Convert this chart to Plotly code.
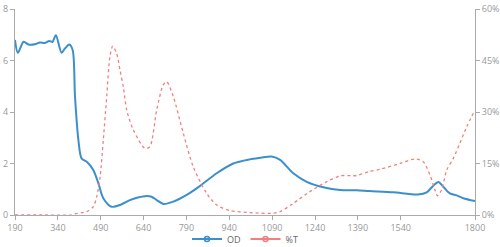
import plotly.graph_objects as go

od_x = [190, 200, 220, 237, 260, 277, 295, 310, 321, 333, 353, 365, 380, 392, 400, 412, 423, 443, 464, 482, 499, 528, 560, 592, 620, 651, 668, 686, 709, 744, 791, 838, 896, 954, 1012, 1050, 1088, 1118, 1164, 1211, 1269, 1328, 1386, 1430, 1514, 1600, 1631, 1654, 1672, 1689, 1712, 1736, 1759, 1800]
od_y = [6.8, 6.3, 6.73, 6.62, 6.63, 6.70, 6.68, 6.76, 6.72, 6.98, 6.30, 6.47, 6.62, 6.40, 4.6, 2.9, 2.2, 2.05, 1.75, 1.23, 0.65, 0.32, 0.40, 0.58, 0.68, 0.74, 0.71, 0.58, 0.43, 0.52, 0.78, 1.13, 1.62, 2.0, 2.16, 2.22, 2.27, 2.14, 1.62, 1.29, 1.08, 0.97, 0.96, 0.93, 0.88, 0.80, 0.88, 1.14, 1.28, 1.1, 0.84, 0.76, 0.65, 0.54]

t_x = [190, 300, 390, 400, 441, 464, 476, 488, 499, 511, 522, 532, 546, 558, 569, 581, 604, 645, 662, 686, 709, 721, 744, 779, 814, 861, 896, 942, 1012, 1088, 1118, 1164, 1222, 1281, 1328, 1386, 1427, 1467, 1537, 1590, 1619, 1642, 1660, 1668, 1683, 1701, 1724, 1747, 1771, 1800]
t_y = [0, 0, 0, 0.3, 1.0, 2.4, 5.3, 11.2, 21.8, 34.5, 46, 49.2, 47, 42, 37.4, 30.6, 24.8, 19.4, 19.9, 30.6, 37.9, 38.8, 34.5, 23.8, 14, 6.3, 2.9, 1.3, 0.7, 0.5, 1.0, 3.4, 6.8, 9.7, 11.4, 11.5, 12.6, 13.3, 15.0, 16.3, 15.5, 11.7, 7.3, 5.6, 7.3, 13.1, 16.5, 20.9, 25.7, 30.6]

x_ticks = [190, 340, 490, 640, 790, 940, 1090, 1240, 1390, 1540, 1800]
y_ticks = [0, 2, 4, 6, 8]
y2_ticks = [0, 15, 30, 45, 60]
y2_labels = ["0%", "15%", "30%", "45%", "60%"]

BLUE = "#3a8fcc"
RED = "#f08080"
GREY = "#999999"
AXIS = "#aaaaaa"

fig = go.Figure()
fig.add_trace(go.Scatter(x=od_x, y=od_y, mode="lines", name="OD", showlegend=False,
                         line=dict(color=BLUE, width=2, shape="spline", smoothing=0.8)))
fig.add_trace(go.Scatter(x=t_x, y=t_y, mode="lines", name="%T", yaxis="y2", showlegend=False,
                         line=dict(color=RED, width=1.3, shape="spline", smoothing=0.8, dash="3px,3px")))
# legend entries
fig.add_trace(go.Scatter(x=[None], y=[None], mode="lines+markers", name="OD",
                         line=dict(color=BLUE, width=2),
                         marker=dict(symbol="circle-open", size=5, color=BLUE, line=dict(width=1.5))))
fig.add_trace(go.Scatter(x=[None], y=[None], mode="lines+markers", name="%T",
                         line=dict(color=RED, width=2),
                         marker=dict(symbol="circle-open", size=5, color=RED, line=dict(width=1.5))))

fig.update_layout(
    width=500, height=247,
    margin=dict(l=15, r=25, t=9, b=32, autoexpand=False),
    paper_bgcolor="white", plot_bgcolor="white",
    font=dict(family="Open Sans, sans-serif", size=9, color=GREY),
    xaxis=dict(range=[190, 1800], tickvals=x_ticks, showgrid=False, zeroline=False,
               showline=True, linecolor=AXIS, linewidth=1, ticks="outside", ticklen=4,
               tickcolor=AXIS, tickfont=dict(size=9, color=GREY), automargin=False),
    yaxis=dict(range=[0, 8], tickvals=y_ticks, showgrid=False, zeroline=False,
               showline=True, linecolor=AXIS, linewidth=1, ticks="outside", ticklen=4,
               tickcolor=AXIS, tickfont=dict(size=9, color=GREY), automargin=False),
    yaxis2=dict(range=[0, 60], tickvals=y2_ticks, ticktext=y2_labels, overlaying="y", side="right",
                showgrid=False, zeroline=False, showline=True, linecolor=AXIS, linewidth=1,
                ticks="outside", ticklen=4, tickcolor=AXIS, tickfont=dict(size=9, color=GREY),
                automargin=False),
    legend=dict(orientation="h", x=0.5, xanchor="center", yref="container", y=0.032, yanchor="middle",
                font=dict(size=9, color="#666666"), tracegroupgap=0, itemwidth=30,
                bgcolor="rgba(0,0,0,0)"),
)

fig.write_html("out.html")
